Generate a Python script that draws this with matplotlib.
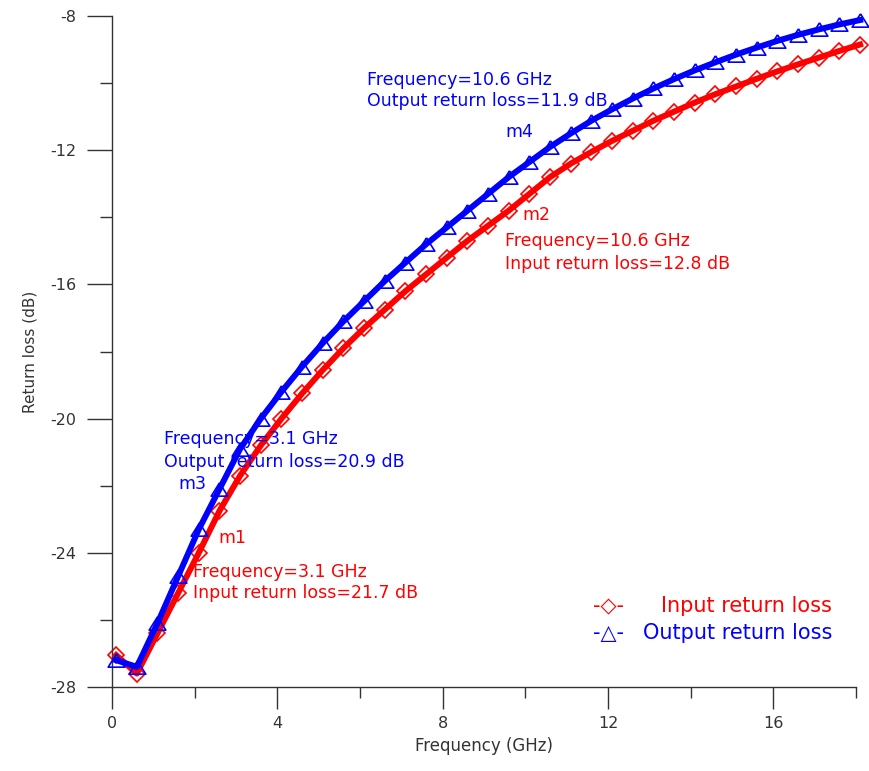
import matplotlib
matplotlib.use("Agg")
import matplotlib.pyplot as plt
from matplotlib.ticker import MultipleLocator

# Frequency sweep points (GHz) at which the markers are drawn
freq_ghz = [0.1, 0.6, 1.1, 1.6, 2.1, 2.6, 3.1, 3.6, 4.1, 4.6, 5.1, 5.6, 6.1,
            6.6, 7.1, 7.6, 8.1, 8.6, 9.1, 9.6, 10.1, 10.6, 11.1, 11.6, 12.1,
            12.6, 13.1, 13.6, 14.1, 14.6, 15.1, 15.6, 16.1, 16.6, 17.1, 17.6,
            18.1]

# Input return loss (S11, dB)
input_rl = [-27.05, -27.6, -26.4, -25.2, -24.0, -22.75, -21.7, -20.8, -20.0,
            -19.25, -18.55, -17.9, -17.3, -16.75, -16.2, -15.7, -15.2, -14.7,
            -14.25, -13.8, -13.3, -12.8, -12.4, -12.05, -11.72, -11.42,
            -11.12, -10.85, -10.58, -10.33, -10.1, -9.87, -9.65, -9.44, -9.24,
            -9.04, -8.85]

# Output return loss (S22, dB)
output_rl = [-27.2, -27.4, -26.1, -24.7, -23.3, -22.1, -20.9, -20.0, -19.2,
             -18.45, -17.75, -17.1, -16.5, -15.9, -15.35, -14.8, -14.3, -13.8,
             -13.3, -12.8, -12.35, -11.9, -11.5, -11.12, -10.78, -10.46,
             -10.16, -9.88, -9.62, -9.38, -9.15, -8.94, -8.74, -8.56, -8.4,
             -8.25, -8.12]

x_ticks = [0, 4, 8, 12, 16]
y_ticks = [-28, -24, -20, -16, -12, -8]

RED = "#ff0000"
BLUE = "#0000ff"
INK = "#333333"

plt.rcParams["font.family"] = ["DejaVu Sans"]
plt.rcParams["axes.unicode_minus"] = False

W, H = 869, 771
fig = plt.figure(figsize=(W / 100, H / 100), dpi=100)
ax = fig.add_axes([112 / W, 1 - 687 / H, (856 - 112) / W, (687 - 16) / H])

tri = [(0, 0.8), (-1, -0.8), (1, -0.8), (0, 0.8)]

# Input return loss: open diamonds under a thick red trace
ax.plot(freq_ghz, input_rl, linestyle="none", marker="D", ms=8.4,
        mfc="none", mec=RED, mew=1.2, clip_on=False, zorder=2)
ax.plot(freq_ghz, input_rl, color=RED, lw=4.3, solid_joinstyle="round",
        clip_on=False, zorder=3)

# Output return loss: open triangles under a thick blue trace
ax.plot(freq_ghz, output_rl, linestyle="none", marker=tri, ms=12,
        mfc="none", mec=BLUE, mew=1.2, clip_on=False, zorder=4)
ax.plot(freq_ghz, output_rl, color=BLUE, lw=4.3, solid_joinstyle="round",
        clip_on=False, zorder=5)

ax.set_xlim(0, 18)
ax.set_ylim(-28, -8)
ax.set_xticks(x_ticks)
ax.set_yticks(y_ticks)
ax.xaxis.set_minor_locator(MultipleLocator(2))
ax.yaxis.set_minor_locator(MultipleLocator(2))

for side in ("top", "right"):
    ax.spines[side].set_visible(False)
for side in ("left", "bottom"):
    ax.spines[side].set_color(INK)
    ax.spines[side].set_linewidth(1.0)

ax.tick_params(axis="x", which="major", direction="out", length=16, width=1.0,
               color=INK, labelcolor=INK, labelsize=11.5, pad=5)
ax.tick_params(axis="x", which="minor", direction="out", length=8, width=1.0,
               color=INK)
ax.tick_params(axis="y", which="major", direction="out", length=18, width=1.0,
               color=INK, labelcolor=INK, labelsize=11.5, pad=8)
ax.tick_params(axis="y", which="minor", direction="out", length=9, width=1.0,
               color=INK)

ax.set_xlabel("Frequency (GHz)", fontsize=12, color=INK, labelpad=4)
ax.set_ylabel("Return loss (dB)", fontsize=11, color=INK, labelpad=9)

# Marker read-outs
ann = dict(fontsize=12.5, va="center", ha="left", zorder=6)
ax.text(6.17, -9.91, "Frequency=10.6 GHz", color=BLUE, **ann)
ax.text(6.17, -10.53, "Output return loss=11.9 dB", color=BLUE, **ann)
ax.text(9.52, -11.46, "m4", color=BLUE, **ann)

ax.text(9.93, -13.93, "m2", color=RED, **ann)
ax.text(9.52, -14.71, "Frequency=10.6 GHz", color=RED, **ann)
ax.text(9.52, -15.39, "Input return loss=12.8 dB", color=RED, **ann)

ax.text(1.26, -20.61, "Frequency=3.1 GHz", color=BLUE, **ann)
ax.text(1.26, -21.29, "Output return loss=20.9 dB", color=BLUE, **ann)
ax.text(1.60, -21.95, "m3", color=BLUE, **ann)

ax.text(2.57, -23.56, "m1", color=RED, **ann)
ax.text(1.96, -24.57, "Frequency=3.1 GHz", color=RED, **ann)
ax.text(1.96, -25.20, "Input return loss=21.7 dB", color=RED, **ann)

# Legend block
leg = dict(fontsize=15, va="center", transform=ax.transAxes, zorder=6)
ax.text(0.647, 0.1207, "-\u25c7-", color=RED, ha="left", **leg)
ax.text(0.968, 0.1207, "Input return loss", color=RED, ha="right", **leg)
ax.text(0.647, 0.0805, "-\u25b3-", color=BLUE, ha="left", **leg)
ax.text(0.968, 0.0805, "Output return loss", color=BLUE, ha="right", **leg)

fig.savefig("out.png", dpi=100)
